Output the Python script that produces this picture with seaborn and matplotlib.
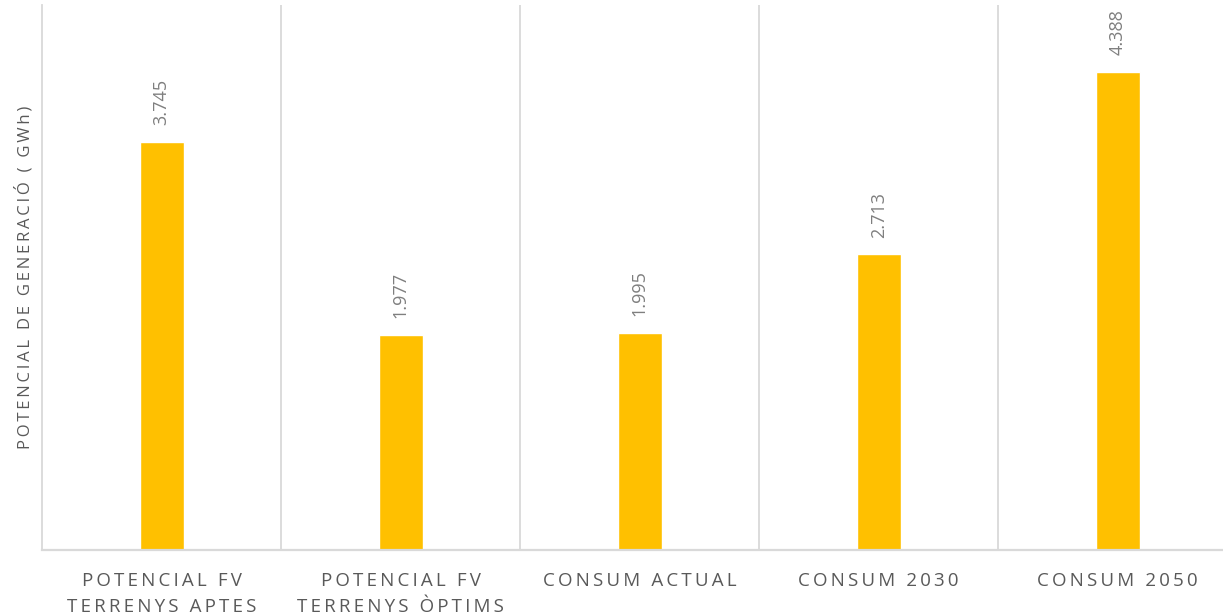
import matplotlib
matplotlib.use("Agg")
import matplotlib.pyplot as plt
import seaborn as sns
import pandas as pd

categories = ["POTENCIAL FV\nTERRENYS APTES", "POTENCIAL FV\nTERRENYS ÒPTIMS",
              "CONSUM ACTUAL", "CONSUM 2030", "CONSUM 2050"]
values = [3745, 1977, 1995, 2713, 4388]
value_labels = ["3.745", "1.977", "1.995", "2.713", "4.388"]
ylabel = "POTENCIAL DE GENERACIÓ ( GWh)"

sns.set_theme(style="white")
plt.rcParams['font.family'] = ['Open Sans', 'DejaVu Sans']

SP = "\u2009"


def spaced(s):
    # letter-spacing imitation: thin space between characters
    return "\n".join(SP.join(list(line)) for line in s.split("\n"))


df = pd.DataFrame({"cat": categories, "val": values})

fig = plt.figure(figsize=(12.23, 6.16), dpi=100)
ax = fig.add_axes([42/1223, 66/616, (1223-42)/1223, 545/616])
sns.barplot(data=df, x="cat", y="val", color="#FFC000", width=0.184,
            saturation=1, ax=ax)

ax.set_ylim(0, 5000)
ax.set_xlim(-0.5, 4.44)
ax.set_yticks([])
grid_c = "#D9D9D9"
for xv in [0.5, 1.5, 2.5, 3.5]:
    ax.axvline(xv, color=grid_c, lw=1.3, zorder=0)
for s in ["top", "right"]:
    ax.spines[s].set_visible(False)
ax.spines["left"].set_color(grid_c)
ax.spines["left"].set_linewidth(1.3)
ax.spines["bottom"].set_color(grid_c)
ax.spines["bottom"].set_linewidth(1.6)

ax.set_xlabel("")
ax.set_ylabel(spaced(ylabel), fontsize=12, color="#595959", labelpad=6)
ax.set_xticks(range(len(categories)))
ax.set_xticklabels([spaced(c) for c in categories])
ax.tick_params(axis="x", length=0, pad=16, labelsize=13.5, labelcolor="#595959")
for t in ax.get_xticklabels():
    t.set_linespacing(1.55)

for i, (v, lab) in enumerate(zip(values, value_labels)):
    ax.annotate(lab, (i, v), xytext=(0, 12), textcoords="offset points",
                rotation=90, ha="center", va="bottom", fontsize=13,
                color="#7F7F7F")

fig.savefig("out.png", dpi=100)
